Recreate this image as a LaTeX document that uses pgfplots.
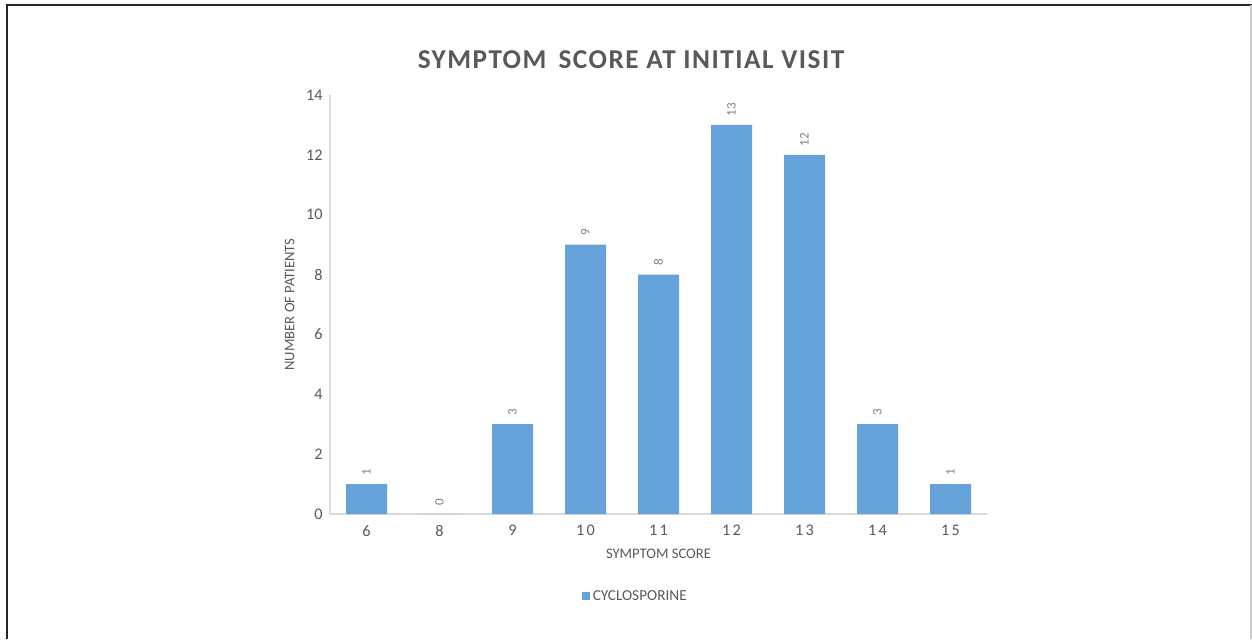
\documentclass[border=0pt]{standalone}
\usepackage{fontspec}
\setmainfont{Carlito}
\usepackage{pgfplots}
\pgfplotsset{compat=1.18}
\definecolor{barcol}{HTML}{64A2D9}
\definecolor{txt}{HTML}{595959}
\definecolor{lbl}{HTML}{7F7F7F}
\definecolor{axl}{HTML}{D9D9D9}
\begin{document}
\begin{tikzpicture}[x=0.75bp,y=0.75bp]
\useasboundingbox (0,0) rectangle (1252,639);
\draw[line width=1.6bp,black!85] (7,0) -- (7,634) -- (1252,634);
\draw[line width=0.8bp,black!20] (1251,634) -- (1251,0);
\node[text=txt,font=\fontsize{20.5}{24}\selectfont\bfseries\addfontfeature{LetterSpace=5.5}] at (631,579) {SYMPTOM\, SCORE AT INITIAL VISIT};
\begin{axis}[
  at={(247.5bp,93.75bp)}, anchor=south west,
  scale only axis, width=492.75bp, height=314.25bp,
  xmin=-0.5, xmax=8.5, ymin=0, ymax=14,
  ytick={0,2,...,14},
  xtick={0,...,8},
  xticklabels={6,8,9,10,11,12,13,14,15},
  axis x line*=bottom, axis y line*=left,
  axis line style={axl, line width=0.9bp},
  x axis line style={-}, y axis line style={-},
  major tick length=0pt,
  tick label style={text=txt, font=\fontsize{12.2}{14}\selectfont},
  /pgf/number format/assume math mode=true,
  yticklabel style={xshift=-2bp},
  xticklabel style={yshift=-5bp, font=\fontsize{12.2}{14}\selectfont\addfontfeature{LetterSpace=15}},
  xlabel={SYMPTOM SCORE},
  ylabel={NUMBER OF PATIENTS},
  label style={text=txt, font=\fontsize{11}{13}\selectfont},
  xlabel style={yshift=-2.5bp},
  ylabel style={yshift=2bp},
  ybar, bar width=30.75bp,
  nodes near coords,
  every node near coord/.append style={rotate=90, anchor=west, text=lbl, font=\fontsize{9.8}{11}\selectfont, xshift=3bp},
  legend style={at={(0.465,-0.196)}, anchor=center, draw=none, fill=none, font=\fontsize{11.5}{13}\selectfont, text=txt},
  legend image code/.code={\fill[barcol] (0bp,-3.2bp) rectangle (6.4bp,3.2bp);},
]
\addplot[fill=barcol, draw=none] coordinates {(0,1) (1,0) (2,3) (3,9) (4,8) (5,13) (6,12) (7,3) (8,1)};
\addlegendentry{CYCLOSPORINE}
\end{axis}
\end{tikzpicture}
\end{document}
